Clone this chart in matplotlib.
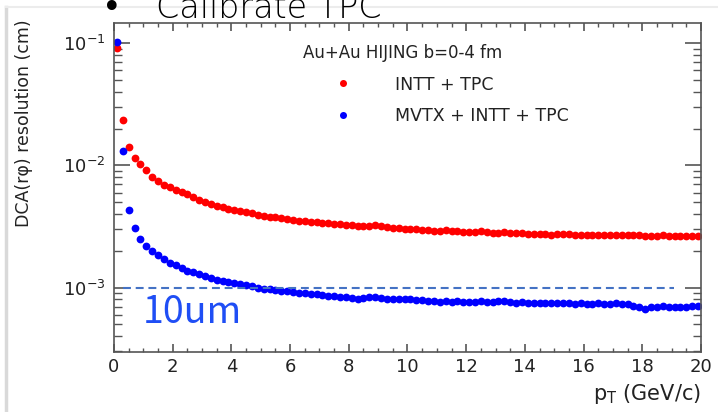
import numpy as np
import matplotlib
matplotlib.use("Agg")
import matplotlib.pyplot as plt
from matplotlib.ticker import MultipleLocator, LogLocator, NullFormatter
from matplotlib.lines import Line2D

# DCA(r-phi) resolution vs pT, Au+Au HIJING b=0-4 fm
pt_bin_width = 0.2
pt_centers = np.arange(pt_bin_width / 2, 20, pt_bin_width)

dca_intt_tpc = [
    0.091, 0.0237, 0.0142, 0.0116, 0.0102, 0.0091, 0.0080, 0.0074, 0.0069, 0.0066,
    0.0063, 0.0061, 0.0058, 0.0055, 0.0052, 0.0050, 0.0048, 0.00466, 0.00453, 0.00440,
    0.00432, 0.00422, 0.00414, 0.00406, 0.00396, 0.00389, 0.00381, 0.00375, 0.00368, 0.00364,
    0.00359, 0.00354, 0.00350, 0.00346, 0.00343, 0.00340, 0.00336, 0.00333, 0.00330, 0.00327,
    0.00324, 0.00321, 0.00318, 0.00320, 0.00323, 0.00319, 0.00314, 0.00309, 0.00306, 0.00303,
    0.00302, 0.00300, 0.00298, 0.00294, 0.00291, 0.00293, 0.00295, 0.00292, 0.00289, 0.00287,
    0.00285, 0.00286, 0.00288, 0.00283, 0.00280, 0.00281, 0.00283, 0.00281, 0.00282, 0.00279,
    0.00277, 0.00276, 0.00277, 0.00274, 0.00271, 0.00273, 0.00276, 0.00274, 0.00272, 0.00270,
    0.00271, 0.00269, 0.00268, 0.00270, 0.00272, 0.00269, 0.00267, 0.00268, 0.00271, 0.00268,
    0.00265, 0.00264, 0.00266, 0.00268, 0.00266, 0.00264, 0.00266, 0.00265, 0.00263, 0.00264,
]

dca_mvtx_intt_tpc = [
    0.1024, 0.0131, 0.00435, 0.00309, 0.00251, 0.00218, 0.00198, 0.00184, 0.00170, 0.00160,
    0.00152, 0.00144, 0.00138, 0.00133, 0.00129, 0.00125, 0.00120, 0.00116, 0.00113, 0.00111,
    0.00109, 0.00107, 0.00105, 0.00103, 0.00100, 0.00098, 0.00097, 0.00095, 0.00094, 0.00093,
    0.00092, 0.00091, 0.00090, 0.00089, 0.00088, 0.00087, 0.00086, 0.00085, 0.00084, 0.00083,
    0.00082, 0.00081, 0.000815, 0.00083, 0.00084, 0.00082, 0.00081, 0.00081, 0.00080, 0.000805,
    0.00080, 0.00079, 0.000785, 0.00078, 0.00077, 0.00076, 0.00077, 0.000765, 0.00077, 0.00076,
    0.000765, 0.00076, 0.00077, 0.000765, 0.00076, 0.000775, 0.00078, 0.00076, 0.000755, 0.00076,
    0.000755, 0.00075, 0.000755, 0.00075, 0.00075, 0.000745, 0.00075, 0.000745, 0.00074, 0.000745,
    0.00074, 0.00074, 0.000745, 0.000735, 0.00074, 0.000745, 0.00074, 0.00073, 0.00071, 0.00069,
    0.00067, 0.00069, 0.00070, 0.000705, 0.00070, 0.000695, 0.00069, 0.00070, 0.00071, 0.000705,
]

ref_level = 1e-3          # 10 um line
ref_range = (0.31, 19.08)

fig = plt.figure(figsize=(7.18, 4.12), dpi=100)
ax = fig.add_axes([114/718, 1-352/412, 587/718, 329/412])

ax.plot(pt_centers, dca_intt_tpc, 'o', color='#ff0000', ms=5.6, mec='none',
        label='INTT + TPC')
ax.plot(pt_centers, dca_mvtx_intt_tpc, 'o', color='#0000ff', ms=5.6, mec='none',
        label='MVTX + INTT + TPC')
ax.hlines(ref_level, *ref_range, colors='#4472c4', lw=1.5, linestyles=(0, (3.8, 2.3)))

ax.set_yscale('log')
ax.set_xlim(0, 20)
ax.set_ylim(2.97e-4, 0.1466)

ax.xaxis.set_major_locator(MultipleLocator(2))
ax.xaxis.set_minor_locator(MultipleLocator(0.5))
ax.yaxis.set_major_locator(LogLocator(base=10))
ax.yaxis.set_minor_locator(LogLocator(base=10, subs=np.arange(2, 10)))
ax.yaxis.set_minor_formatter(NullFormatter())

for s in ax.spines.values():
    s.set_color('#555555')
    s.set_linewidth(1.2)
ax.tick_params(which='both', direction='in', top=True, right=True, color='#555555',
               labelcolor='#222222', labelsize=13)
ax.tick_params(axis='x', which='major', length=5.8, width=1.2, pad=4)
ax.tick_params(axis='x', which='minor', length=2.9, width=1.0)
ax.tick_params(axis='y', which='major', length=11.5, width=1.2, pad=6)
ax.tick_params(axis='y', which='minor', length=5.8, width=1.0)

leg = ax.legend(title='Au+Au HIJING b=0-4 fm', loc='upper left',
                bbox_to_anchor=((303-114)/587, (352-44)/329), frameon=False,
                fontsize=12.5, title_fontsize=12, numpoints=1, borderpad=0,
                borderaxespad=0, handlelength=4.6, handletextpad=0.7,
                labelspacing=0.78, alignment='left', markerscale=0.9)
for t in leg.get_texts():
    t.set_color('#222222')
leg.get_title().set_color('#222222')

fig.text(24/718, 1-123.5/412, 'DCA(r\u03c6) resolution (cm)', rotation=90,
         ha='center', va='center', fontsize=12.5, color='#222222')
fig.text(701/718, 1-394/412, r'p$_{\mathregular{T}}$ (GeV/c)', ha='right',
         va='center', fontsize=15, color='#222222')

fig.text(143/718, 1-323/412, '10um', fontsize=27, color='#1f4ef5',
         family=['Noto Sans CJK JP', 'DejaVu Sans'], va='baseline')

# slide text cut off at the top
fig.text(102/718, 1-18/412, '\u2022', fontsize=24, color='black', va='baseline')
fig.text(156/718, 1-18/412, 'Calibrate TPC', fontsize=24, color='black',
         va='baseline', fontweight='light')

# slide frame
fig.add_artist(Line2D([6/718, 6/718], [0, 1-7/412], transform=fig.transFigure,
                      color='#d9d9d9', lw=2.5))
fig.add_artist(Line2D([6/718, 1], [1-7/412, 1-7/412], transform=fig.transFigure,
                      color='#ececec', lw=1.5))

fig.savefig('out.png', dpi=100)
